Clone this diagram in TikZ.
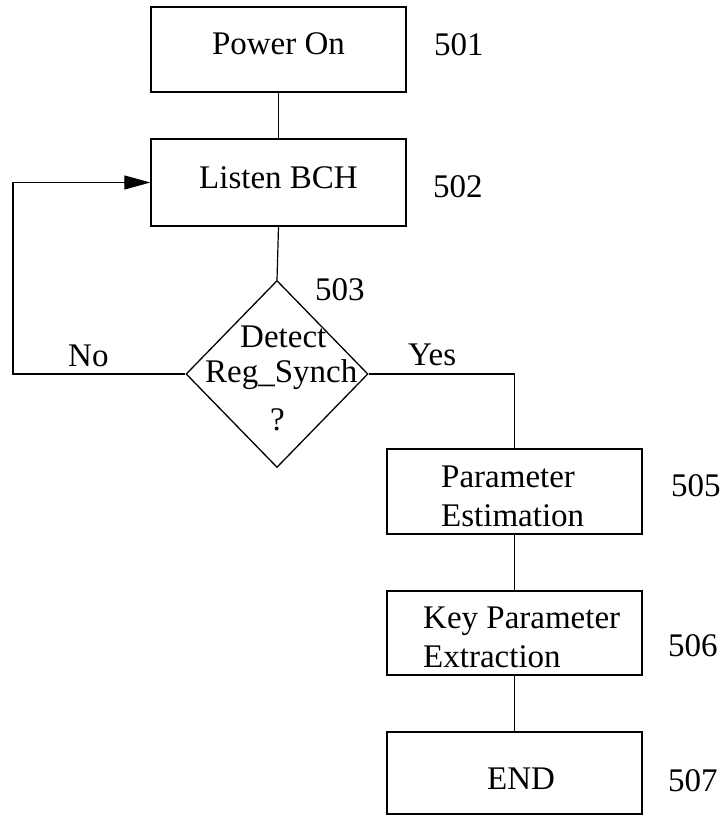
\documentclass[tikz,border=0pt]{standalone}
\usepackage{fontspec}
\setmainfont{Liberation Serif}
\usetikzlibrary{shapes.geometric,arrows.meta}
\newcommand\fsz{\fontsize{33}{39.6}\selectfont}
\tikzset{
  box/.style={draw, line width=1.4pt, minimum width=255pt, inner sep=0pt, font=\fsz},
  dia/.style={draw, diamond, line width=1.3pt, minimum width=182pt, minimum height=187pt, inner sep=0pt},
  txt/.style={font=\fsz, inner sep=0pt, anchor=base west},
  conn/.style={line width=1.2pt},
  arr/.style={conn, -{Triangle[length=26pt,width=14pt]}}
}
\begin{document}
\begin{tikzpicture}[x=1pt,y=-1pt]
\path[use as bounding box, fill=white] (0,0) rectangle (724,816);
% boxes
\node[box, minimum height=85pt, text height=22pt, text depth=11pt] (power) at (278.5,49.5) {Power On};
\node[box, minimum height=87pt, text height=22pt, text depth=11pt] (listen) at (278.5,182.5) {Listen BCH};
\node[dia] (detect) at (277,374) {};
\node[box, minimum height=85pt] (param) at (514.5,491.5) {};
\node[box, minimum height=84pt] (key) at (514.5,633) {};
\node[box, minimum height=82pt] (endb) at (514.5,773) {};
% texts inside
\node[txt] (t1) at (240,347) {Detect};
\node[txt] (t2) at (205,382) {Reg\_Synch};
\node[txt] (t3) at (270,430) {?};
\node[txt] (p1) at (441,487) {Parameter};
\node[txt] (p2) at (441,526) {Estimation};
\node[txt] (k1) at (423,628) {Key Parameter};
\node[txt] (k2) at (423,667) {Extraction};
\node[txt] (e1) at (487,789) {END};
% labels
\node[txt] (n501) at (434,56) {501};
\node[txt] (n502) at (433,197) {502};
\node[txt] (n503) at (315,300) {503};
\node[txt] (n505) at (671,496) {505};
\node[txt] (n506) at (668,656) {506};
\node[txt] (n507) at (668,791) {507};
\node[txt] (no) at (68,366) {No};
\node[txt] (yes) at (408,365) {Yes};
% connectors
\coordinate (loop) at (13,374);
\draw[conn] (power.south) -- (listen.north);
\draw[conn] (listen.south) -- (detect.north);
\draw[arr] (detect.west) -- (loop) |- (listen.west);
\draw[conn] (detect.east) -| (param.north);
\draw[conn] (param.south) -- (key.north);
\draw[conn] (key.south) -- (endb.north);
\end{tikzpicture}
\end{document}
